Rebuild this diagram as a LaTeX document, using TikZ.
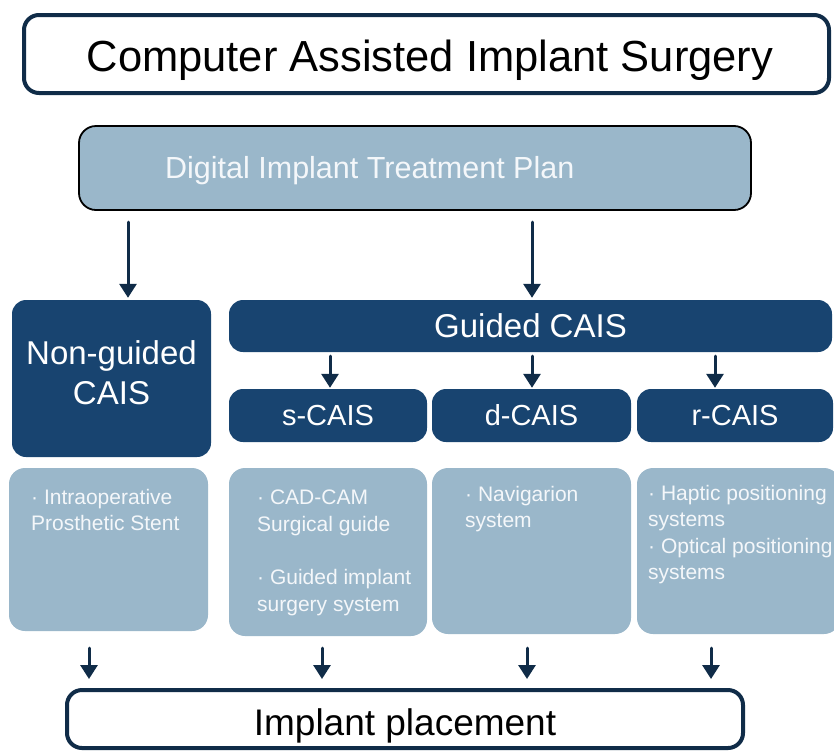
\documentclass[tikz,border=0pt]{standalone}
\usepackage{fontspec}
\setmainfont{Liberation Sans}
\usetikzlibrary{arrows.meta}
\definecolor{navy}{RGB}{16,44,72}
\definecolor{darkblue}{RGB}{24,68,112}
\definecolor{lightblue}{RGB}{154,183,202}
\definecolor{paletext}{RGB}{244,247,250}
\tikzset{
  outlinebox/.style={draw=navy, line width=4pt, rounded corners=15pt, fill=white, inner sep=0pt},
  planbox/.style={draw=black, line width=1.8pt, rounded corners=17pt, fill=lightblue, inner sep=0pt},
  darkbox/.style={fill=darkblue, rounded corners=14pt, text=white, inner sep=0pt, align=center},
  lightbox/.style={fill=lightblue, rounded corners=16pt, inner sep=0pt},
  boxtext/.style={anchor=north west, inner sep=0pt, align=left, text=paletext,
    font=\fontsize{21}{26.5}\selectfont},
  arr/.style={draw=navy, line width=3pt, line cap=round, -{Triangle[width=17pt,length=14pt]}},
}
\begin{document}
\begin{tikzpicture}[x=1pt,y=-1pt]
\useasboundingbox (0,0) rectangle (834,750);
% top title
\node[outlinebox, minimum width=805pt, minimum height=78pt] (title) at (426.5,54) {};
\node[inner sep=0pt, anchor=base, font=\fontsize{43.5}{48}\selectfont] (titletext) at (430,71) {Computer Assisted Implant Surgery};
% plan
\node[planbox, minimum width=672pt, minimum height=84pt] (plan) at (415,168) {};
\node[anchor=west, inner sep=0pt, text=paletext, font=\fontsize{30.5}{36}\selectfont] (plantext) at (165,171) {Digital Implant Treatment Plan};
% level 2
\node[darkbox, minimum width=199pt, minimum height=157pt] (ng) at (111.5,378.5) {};
\node[inner sep=0pt, text=white, align=center, font=\fontsize{33}{40}\selectfont] (ngtext) at (111.5,372.5) {Non-guided\\CAIS};
\node[darkbox, minimum width=603pt, minimum height=52pt,
  font=\fontsize{33}{40}\selectfont] (guided) at (530.5,326) {Guided CAIS};
\node[darkbox, minimum width=198pt, minimum height=53pt,
  font=\fontsize{29}{34}\selectfont] (s) at (328,415.5) {s-CAIS};
\node[darkbox, minimum width=199pt, minimum height=53pt,
  font=\fontsize{29}{34}\selectfont] (d) at (531.5,415.5) {d-CAIS};
\node[darkbox, minimum width=196pt, minimum height=53pt,
  font=\fontsize{29}{34}\selectfont] (r) at (735,415.5) {r-CAIS};
% light boxes
\node[lightbox, minimum width=199pt, minimum height=163pt] (lng) at (108.5,549.5) {};
\node[lightbox, minimum width=198pt, minimum height=168pt] (ls) at (328,552) {};
\node[lightbox, minimum width=199pt, minimum height=166pt] (ld) at (531.5,551) {};
\node[lightbox, minimum width=203pt, minimum height=166pt] (lr) at (738.5,551) {};
\node[boxtext] (tng) at (31,489) {· Intraoperative\\Prosthetic Stent};
\node[boxtext] (ts) at (257,490) {· CAD-CAM\\Surgical guide\\[27pt]· Guided implant\\surgery system};
\node[boxtext] (td) at (465,486) {· Navigarion\\system};
\node[boxtext] (tr) at (648,485) {· Haptic positioning\\systems\\· Optical positioning\\systems};
% bottom
\node[outlinebox, minimum width=676pt, minimum height=58pt] (impl) at (405,719) {};
\node[inner sep=0pt, anchor=base, font=\fontsize{37}{44}\selectfont] (impltext) at (405,735) {Implant placement};
% arrows
\coordinate (a1) at (128,222);
\coordinate (a2) at (532,222);
\draw[arr] (a1) -- ([yshift=2pt]a1 |- ng.north);
\draw[arr] (a2) -- ([yshift=2pt]a2 |- guided.north);
\coordinate (b1) at (330,356);
\coordinate (b2) at (532,356);
\coordinate (b3) at (715,356);
\draw[arr] (b1) -- ([yshift=1pt]b1 |- s.north);
\draw[arr] (b2) -- ([yshift=1pt]b2 |- d.north);
\draw[arr] (b3) -- ([yshift=1pt]b3 |- r.north);
\coordinate (c1) at (89,648);
\coordinate (c2) at (322,648);
\coordinate (c3) at (527,648);
\coordinate (c4) at (711,648);
\draw[arr] (c1) -- ([yshift=9pt]c1 |- impl.north);
\draw[arr] (c2) -- ([yshift=9pt]c2 |- impl.north);
\draw[arr] (c3) -- ([yshift=9pt]c3 |- impl.north);
\draw[arr] (c4) -- ([yshift=9pt]c4 |- impl.north);
\end{tikzpicture}
\end{document}
